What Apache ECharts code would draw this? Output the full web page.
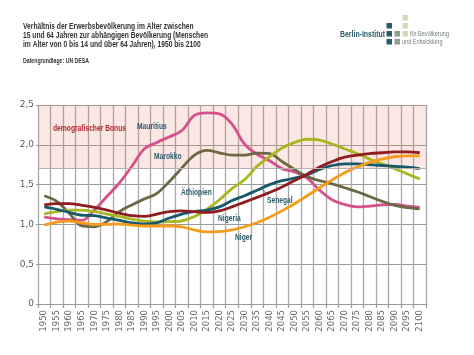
<!DOCTYPE html>
<html><head><meta charset="utf-8">
<script src="https://cdn.jsdelivr.net/npm/echarts@6/dist/echarts.min.js"></script>
<style>html,body{margin:0;padding:0;background:#fff}#c{width:474px;height:355px}</style>
</head><body><div id="c"></div>
<script>
const years = ['1950','1955','1960','1965','1970','1975','1980','1985','1990','1995','2000','2005','2010','2015','2020','2025','2030','2035','2040','2045','2050','2055','2060','2065','2070','2075','2080','2085','2090','2095','2100'];
const mauritius = [1.09,1.07,1.06,1.05,1.18,1.35,1.52,1.73,1.95,2.03,2.10,2.18,2.37,2.40,2.39,2.26,2.01,1.88,1.80,1.70,1.66,1.58,1.43,1.31,1.25,1.22,1.23,1.245,1.25,1.23,1.215];
const marokko = [1.36,1.29,1.14,0.98,0.97,1.035,1.16,1.245,1.32,1.39,1.54,1.71,1.87,1.93,1.90,1.87,1.87,1.895,1.89,1.79,1.69,1.60,1.55,1.51,1.46,1.41,1.35,1.29,1.24,1.21,1.195];
const aethiopien = [1.13,1.16,1.18,1.18,1.16,1.13,1.10,1.065,1.04,1.03,1.035,1.045,1.10,1.19,1.31,1.45,1.56,1.73,1.85,1.96,2.03,2.07,2.06,2.01,1.95,1.89,1.82,1.76,1.70,1.635,1.57];
const senegal = [1.22,1.19,1.15,1.115,1.11,1.08,1.05,1.02,1.005,1.02,1.08,1.13,1.16,1.18,1.22,1.30,1.36,1.43,1.50,1.55,1.58,1.62,1.69,1.74,1.76,1.76,1.75,1.74,1.73,1.72,1.70];
const nigeria = [1.245,1.26,1.26,1.24,1.215,1.18,1.14,1.11,1.10,1.13,1.16,1.17,1.16,1.15,1.17,1.22,1.28,1.34,1.40,1.47,1.55,1.63,1.72,1.79,1.845,1.87,1.89,1.90,1.91,1.91,1.90];
const niger = [0.99,1.03,1.04,1.02,1.00,1.00,1.005,0.99,0.98,0.98,0.98,0.97,0.93,0.905,0.91,0.93,0.97,1.02,1.09,1.17,1.26,1.36,1.46,1.56,1.65,1.72,1.78,1.82,1.85,1.86,1.86];
const bonusRange = [1.7, 2.5];
const titleLines = ['Verhältnis der Erwerbsbevölkerung im Alter zwischen','15 und 64 Jahren zur abhängigen Bevölkerung (Menschen','im Alter von 0 bis 14 und über 64 Jahren), 1950 bis 2100'];

const FAM = "'Liberation Sans',Arial,sans-serif";
const TEAL = '#2a5b6b';
const mctx = document.createElement('canvas').getContext('2d');
function fit(text, font, target){ mctx.font = font; return target / mctx.measureText(text).width; }

const titleFont = 'bold 9.5px ' + FAM;
const titleScale = fit(titleLines[1], titleFont, 185);
const labFont = 'bold 9.5px ' + FAM;
const labScale = fit('demografischer Bonus', labFont, 73);
const smallFont = '6.5px ' + FAM;
const smallScale = fit('für Bevölkerung', smallFont, 39);

function txt(text, x, y, font, scale, fill, align){
  return {type:'text', x, y, scaleX:scale, z:10,
    style:{text, font, fill, textAlign:align||'left', textVerticalAlign:'middle', verticalAlign:'middle'}};
}

const chart = echarts.init(document.getElementById('c'), null, {renderer:'canvas'});

function line(name, data, color){
  return {name, type:'line', data, smooth:0.35, symbol:'none', z:3,
    lineStyle:{color, width:2.8}, itemStyle:{color}};
}

const graphics = [];
titleLines.forEach((t,i)=>graphics.push(txt(t, 23, 26 + 9*i, titleFont, titleScale, '#333')));
graphics.push(txt('Datengrundlage: UN DESA', 23, 61, 'bold 6.5px '+FAM, fit('Datengrundlage: UN DESA','bold 6.5px '+FAM,66), '#333'));
graphics.push(txt('Berlin-Institut', 385, 34.5, 'bold 9.5px '+FAM, fit('Berlin-Institut','bold 9.5px '+FAM,45), TEAL, 'right'));
[[386.5,23,TEAL],[386.5,31,TEAL],[386.5,39,TEAL],[394.5,31,'#8e9f90'],[394.5,39,'#8e9f90'],[402.5,15,'#d7dbb5'],[402.5,23,'#d7dbb5'],[402.5,31,'#d7dbb5']]
  .forEach(s=>graphics.push({type:'rect', shape:{x:s[0],y:s[1],width:5.5,height:5.5}, style:{fill:s[2]}}));
graphics.push(txt('für Bevölkerung', 410, 34.5, smallFont, smallScale, '#6f7f75'));
graphics.push(txt('und Entwicklung', 402, 42.5, smallFont, smallScale, '#6f7f75'));
graphics.push(txt('demografischer Bonus', 53, 128, labFont, labScale, '#b3262c'));
graphics.push(txt('Mauritius', 137, 126, labFont, labScale, TEAL));
graphics.push(txt('Marokko', 154, 156, labFont, labScale, TEAL));
graphics.push(txt('Äthiopien', 181, 192, labFont, labScale, TEAL));
graphics.push(txt('Nigeria', 218, 218, labFont, labScale, TEAL));
graphics.push(txt('Senegal', 267, 200, labFont, labScale, TEAL));
graphics.push(txt('Niger', 235, 237, labFont, labScale, TEAL));
graphics.push({type:'line', z:10, shape:{x1:262,y1:189.5,x2:269,y2:195.5}, style:{stroke:'#555', lineWidth:0.8}});

const option = {
  animation:false,
  grid:{left:38, right:48, top:105, bottom:51},
  xAxis:{type:'category', data:years, boundaryGap:true,
    axisLine:{lineStyle:{color:'#9a9a9a', width:1}},
    axisTick:{show:true, length:4, lineStyle:{color:'#9a9a9a', width:1.2}},
    splitLine:{show:true, lineStyle:{color:'#a8a8a8', width:1.3}},
    axisLabel:{rotate:90, interval:0, fontSize:8.5, color:'#666', margin:6, fontFamily:'DejaVu Sans, sans-serif'}},
  yAxis:{type:'value', min:0, max:2.5, interval:0.5,
    axisLine:{show:false}, axisTick:{show:true, length:2, lineStyle:{color:'#999'}},
    splitLine:{lineStyle:{color:'#9a9a9a', width:1}},
    axisLabel:{fontSize:9, color:'#5a5a5a', margin:4, fontFamily:'DejaVu Sans, sans-serif',
      formatter:v => v===0 ? '0' : v.toFixed(1).replace('.', ',')}},
  series:[
    {type:'line', data:[], silent:true,
      markArea:{silent:true, itemStyle:{color:'rgba(235,125,110,0.18)'},
        data:[[{yAxis:bonusRange[0]},{yAxis:bonusRange[1]}]]},
      markLine:{silent:true, symbol:'none', label:{show:false},
        lineStyle:{color:'#b8b0ae', width:1, type:'solid'}, data:[{yAxis:bonusRange[0]}]}},
    line('Mauritius', mauritius, '#d6508a'),
    line('Marokko', marokko, '#6d6845'),
    line('Äthiopien', aethiopien, '#a9b720'),
    line('Senegal', senegal, '#17596b'),
    line('Nigeria', nigeria, '#8e1c20'),
    line('Niger', niger, '#f59c1c')
  ],
  graphic:graphics
};
chart.setOption(option);
</script></body></html>
